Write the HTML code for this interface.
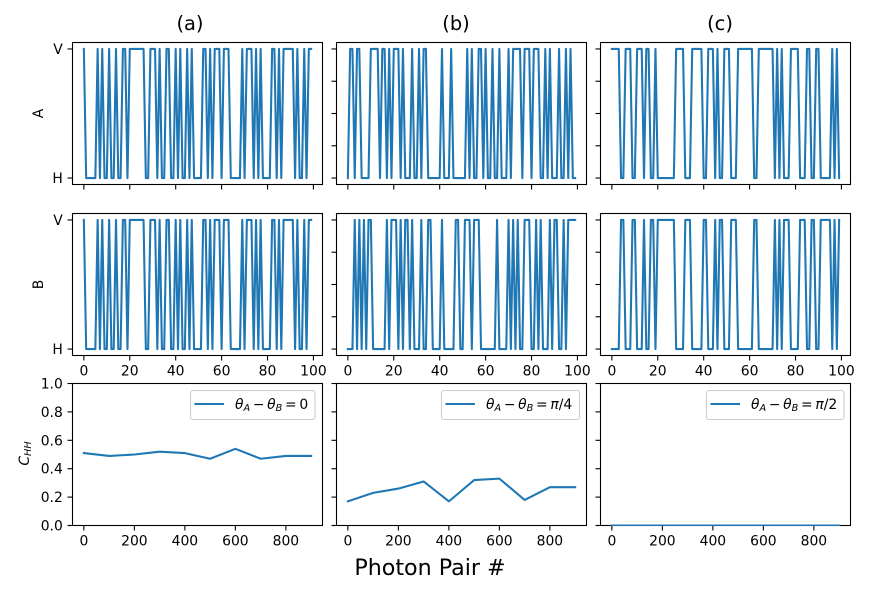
<!DOCTYPE html>
<html>
<head>
<meta charset="utf-8">
<title>Photon pair polarisation chart</title>
<style>
html,body{margin:0;padding:0;background:#fff;}
svg{display:block;font-family:"DejaVu Sans","Liberation Sans",sans-serif;}
text{fill:#000;}
</style>
</head>
<body>
<svg id="chart" width="884" height="590" viewBox="0 0 884 590" xmlns="http://www.w3.org/2000/svg"></svg>
<script>
const pairIndexTicks = [0, 20, 40, 60, 80, 100];
const pairCountTicks = [0, 200, 400, 600, 800];
const corrTicks = [0, 0.2, 0.4, 0.6, 0.8, 1];
const stateTicks = [0, 0.25, 0.5, 0.75, 1];
const columnTitles = ['(a)', '(b)', '(c)'];

const aliceA = [
1,0,0,0,0,0,1,0,1,0, 0,1,0,0,1,0,0,1,1,0,
1,1,1,1,1,1,1,0,0,1, 1,1,0,1,0,0,1,1,0,0,
1,0,1,0,0,1,0,1,0,0, 0,0,1,1,0,1,0,1,1,1,
0,1,1,1,0,0,0,0,0,1, 0,1,1,1,0,1,0,1,0,0,
0,0,1,1,0,1,0,1,1,1, 1,1,0,1,0,0,1,0,1,1];
const bobA = [
1,0,0,0,0,0,1,0,1,0, 0,1,0,0,1,0,0,1,1,0,
1,1,1,1,1,1,1,0,0,1, 1,1,0,1,0,0,1,1,0,0,
1,0,1,0,0,1,0,1,0,0, 0,0,1,1,0,1,0,1,1,1,
0,1,1,1,0,0,0,0,0,1, 0,1,1,1,0,1,0,1,0,0,
0,0,1,1,0,1,0,1,1,1, 1,1,0,1,0,0,1,0,1,1];
const aliceB = [
0,1,1,0,1,1,0,0,0,0, 1,1,1,1,0,1,1,0,1,0,
1,1,1,0,1,0,0,0,1,0, 0,1,0,1,1,0,0,0,0,0,
0,1,0,0,0,1,0,0,0,0, 0,0,1,0,1,0,0,1,1,0,
1,0,0,1,0,0,1,0,0,0, 1,0,1,1,1,1,0,1,1,1,
0,1,1,1,0,0,1,0,1,0, 0,0,1,0,0,1,0,1,0,0];
const bobB = [
0,0,0,1,0,1,0,1,0,1, 1,0,0,0,0,0,0,1,0,1,
1,1,0,1,0,1,1,0,1,0, 0,0,1,0,0,1,1,0,0,0,
0,1,0,0,0,0,0,1,1,0, 0,1,1,1,0,1,1,1,0,0,
0,0,0,0,0,1,0,0,0,0, 1,0,1,0,1,0,0,1,1,1,
0,0,1,0,1,0,0,0,1,0, 1,1,0,0,1,0,1,1,1,1];
const aliceC = [
1,1,1,1,0,0,1,1,1,0, 0,1,1,1,0,1,1,0,0,1,
0,0,0,0,0,0,0,0,1,1, 1,1,0,0,0,1,1,1,1,1,
0,0,1,1,1,0,1,0,0,1, 1,1,0,0,0,1,1,1,1,1,
1,1,0,0,1,1,1,1,1,1, 1,0,1,0,1,0,0,0,1,1,
1,1,0,0,0,1,1,0,0,1, 1,0,0,0,0,0,1,0,1,0];
const bobC = [
0,0,0,0,1,1,0,0,0,1, 1,0,0,0,1,0,0,1,1,0,
1,1,1,1,1,1,1,1,0,0, 0,0,1,1,1,0,0,0,0,0,
1,1,0,0,0,1,0,1,1,0, 0,0,1,1,1,0,0,0,0,0,
0,0,1,1,0,0,0,0,0,0, 0,1,0,1,0,1,1,1,0,0,
0,0,1,1,1,0,0,1,1,0, 0,1,1,1,1,1,0,1,0,1];

const corrPairs = [0, 100, 200, 300, 400, 500, 600, 700, 800, 900];
const corrA = [0.51, 0.49, 0.50, 0.52, 0.51, 0.47, 0.54, 0.47, 0.49, 0.49];
const corrB = [0.17, 0.23, 0.26, 0.31, 0.17, 0.32, 0.33, 0.18, 0.27, 0.27];
const corrC = [0, 0, 0, 0, 0, 0, 0, 0, 0, 0];

const NS = 'http://www.w3.org/2000/svg';
const svg = document.getElementById('chart');
const BLUE = '#1f77b4';
const colLeft = [72.5, 336.5, 600.5];
const rowTop = [42.5, 213.5, 383.5];
const titleCenter = [190, 456, 720];
const AW = 250, AH = 142;

function make(tag, attrs, name, parent) {
  const el = document.createElementNS(NS, tag);
  for (const k in attrs) el.setAttribute(k, attrs[k]);
  
  
  (parent || svg).appendChild(el);
  return el;
}
function label(x, y, str, size, anchor, name, parent) {
  const t = make('text', {x: x, y: y, 'font-size': size, 'text-anchor': anchor || 'middle'}, name, parent);
  t.textContent = str;
  return t;
}
function linear(d0, d1, r0, r1) {
  return function (v) { return r0 + (v - d0) / (d1 - d0) * (r1 - r0); };
}
function paddedX(left, dmin, dmax) {
  const span = dmax - dmin;
  return linear(dmin - span * 0.05, dmax + span * 0.05, left, left + AW);
}
function drawSpines(left, top, name, g) {
  make('rect', {x: left, y: top, width: AW, height: AH, fill: 'none', stroke: '#000', 'stroke-width': 1.1}, name + '-frame', g);
}
function xTick(x, bottom, text, name, g) {
  make('line', {x1: x, x2: x, y1: bottom, y2: bottom + 5, stroke: '#000', 'stroke-width': 1.1}, name + '-tick', g);
  if (text !== null) label(x, bottom + 20, text, 13.9, 'middle', name + '-label', g);
}
function yTick(y, left, text, name, g) {
  make('line', {x1: left - 5, x2: left, y1: y, y2: y, stroke: '#000', 'stroke-width': 1.1}, name + '-tick', g);
  if (text !== null) label(left - 9.7, y + 5, text, 13.9, 'end', name + '-label', g);
}
function polyline(xs, ys, fx, fy, name, g, clip) {
  const pts = xs.map(function (v, i) { return fx(v).toFixed(2) + ',' + fy(ys[i]).toFixed(2); }).join(' ');
  const attrs = {points: pts, fill: 'none', stroke: BLUE, 'stroke-width': 2.08, 'stroke-linejoin': 'round', 'stroke-linecap': 'square'};
  if (clip) attrs['clip-path'] = 'url(#' + clip + ')';
  make('polyline', attrs, name, g);
}

function statePanel(col, row, values, panelName) {
  const left = colLeft[col], top = rowTop[row];
  const g = make('g', {}, panelName + '-panel');
  const fx = paddedX(left, 0, values.length - 1);
  const fy = linear(-0.05, 1.05, top + AH, top);
  polyline(values.map(function (_, i) { return i; }), values, fx, fy, panelName + '-line', g);
  pairIndexTicks.forEach(function (t) {
    xTick(fx(t), top + AH, row === 1 ? String(t) : null, panelName + '-x-' + t, g);
  });
  if (col === 0) {
    yTick(fy(1), left, 'V', panelName + '-y-v', g);
    yTick(fy(0), left, 'H', panelName + '-y-h', g);
  } else {
    stateTicks.forEach(function (t) { yTick(fy(t), left, null, panelName + '-y-' + t, g); });
  }
  drawSpines(left, top, panelName, g);
}

function mathLegend(g, x, y, suffixItalic, suffixPlain, name) {
  const t = make('text', {x: x, y: y, 'font-size': 13.9}, name, g);
  function span(str, style, dy, size, dx) {
    const s = document.createElementNS(NS, 'tspan');
    if (style) s.setAttribute('font-style', style);
    if (dy) s.setAttribute('dy', dy);
    if (dx) s.setAttribute('dx', dx);
    if (size) s.setAttribute('font-size', size);
    s.textContent = str;
    t.appendChild(s);
  }
  span('θ', 'italic');
  span('A', 'italic', 2, 9.7);
  span('−', null, -2, null, 2.7);
  span('θ', 'italic', null, null, 2.7);
  span('B', 'italic', 2, 9.7);
  span('=', null, -2, null, 2.7);
  if (suffixItalic) span(suffixItalic, 'italic', null, null, 2.7);
  span(suffixPlain, null, null, null, suffixItalic ? 0 : 2.7);
  return t;
}

function corrPanel(col, values, panelName, box, suffixItalic, suffixPlain) {
  const left = colLeft[col], top = rowTop[2];
  const g = make('g', {}, panelName + '-panel');
  const clipId = 'clip-' + panelName;
  const defs = make('clipPath', {id: clipId}, panelName + '-clip', g);
  make('rect', {x: left, y: top, width: AW, height: AH + 0.5}, panelName + '-clip-area', defs);
  const fx = paddedX(left, 0, 900);
  const fy = linear(0, 1, top + AH, top);
  pairCountTicks.forEach(function (t) {
    xTick(fx(t), top + AH, String(t), panelName + '-x-' + t, g);
  });
  corrTicks.forEach(function (t) {
    yTick(fy(t), left, col === 0 ? t.toFixed(1) : null, panelName + '-y-' + t, g);
  });
  drawSpines(left, top, panelName, g);
  polyline(corrPairs, values, fx, fy, panelName + '-line', g, clipId);
  const lg = make('g', {}, panelName + '-legend', g);
  make('rect', {x: box.x, y: 390.5, width: box.w, height: 29, rx: 2.5, fill: '#fff', 'fill-opacity': 0.8, stroke: '#ccc', 'stroke-width': 1.1}, panelName + '-legend-box', lg);
  make('line', {x1: box.x + 4, x2: box.x + 33.5, y1: 404, y2: 404, stroke: BLUE, 'stroke-width': 2.08}, panelName + '-legend-line', lg);
  mathLegend(lg, box.x + 44.5, 409, suffixItalic, suffixPlain, panelName + '-legend-label');
}

statePanel(0, 0, aliceA, 'alice-a');
statePanel(1, 0, aliceB, 'alice-b');
statePanel(2, 0, aliceC, 'alice-c');
statePanel(0, 1, bobA, 'bob-a');
statePanel(1, 1, bobB, 'bob-b');
statePanel(2, 1, bobC, 'bob-c');
corrPanel(0, corrA, 'correlation-a', {x: 190.5, w: 124.5}, '', '0');
corrPanel(1, corrB, 'correlation-b', {x: 441.5, w: 138}, 'π', '/4');
corrPanel(2, corrC, 'correlation-c', {x: 706.5, w: 137.5}, 'π', '/2');

columnTitles.forEach(function (str, i) {
  label(titleCenter[i], 30, str, 19.4, 'middle', 'column-title-' + i);
});

const yA = label(0, 0, 'A', 13.9, 'middle', 'y-axis-title-a');
yA.setAttribute('transform', 'translate(43,113.5) rotate(-90)');
const yB = label(0, 0, 'B', 13.9, 'middle', 'y-axis-title-b');
yB.setAttribute('transform', 'translate(43,284.5) rotate(-90)');

const yC = make('text', {'font-size': 13.9, 'font-style': 'italic', transform: 'translate(29,453.5) rotate(-90)', 'text-anchor': 'middle'}, 'y-axis-title-chh');
const cMain = document.createElementNS(NS, 'tspan');
cMain.textContent = 'C';
yC.appendChild(cMain);
const cSub = document.createElementNS(NS, 'tspan');
cSub.setAttribute('font-size', 9.7);
cSub.setAttribute('dy', 2);
cSub.textContent = 'HH';
yC.appendChild(cSub);

label(430, 575, 'Photon Pair #', 22.2, 'middle', 'x-axis-title');
</script>
</body>
</html>
